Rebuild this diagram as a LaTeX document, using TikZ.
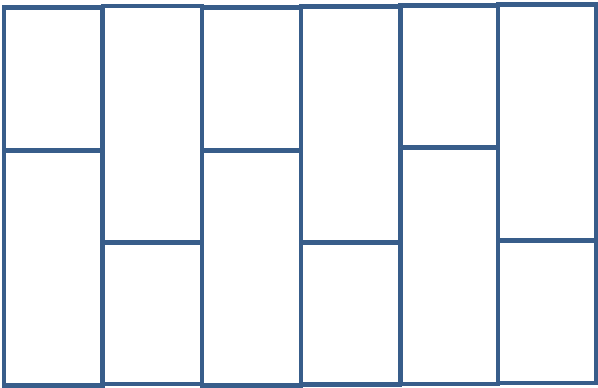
\documentclass[tikz,border=0pt]{standalone}
\definecolor{panelblue}{HTML}{385D8A}
\begin{document}
\begin{tikzpicture}[x=1pt,y=-1pt,
  panel/.style={draw=panelblue,line width=4.6pt,line join=miter,fill=white}]
\useasboundingbox (0,0) rectangle (598,388);
% column 1
\draw[panel] (4,7.5) rectangle (102.5,385.5);
\draw[panel] (4,150.2) -- (102.5,150.2);
% column 2
\draw[panel] (103,6) rectangle (202,384);
\draw[panel] (103,242.3) -- (202,242.3);
% column 3
\draw[panel] (202,7.5) rectangle (301,385.5);
\draw[panel] (202,150.2) -- (301,150.2);
% column 4
\draw[panel] (301,6.5) rectangle (400,384.5);
\draw[panel] (301,242.3) -- (400,242.3);
% column 5
\draw[panel] (400.5,5.7) rectangle (498,384);
\draw[panel] (400.5,147.7) -- (498,147.7);
% column 6
\draw[panel] (498,4.7) rectangle (595.8,383);
\draw[panel] (498,240.3) -- (595.8,240.3);
\end{tikzpicture}
\end{document}
